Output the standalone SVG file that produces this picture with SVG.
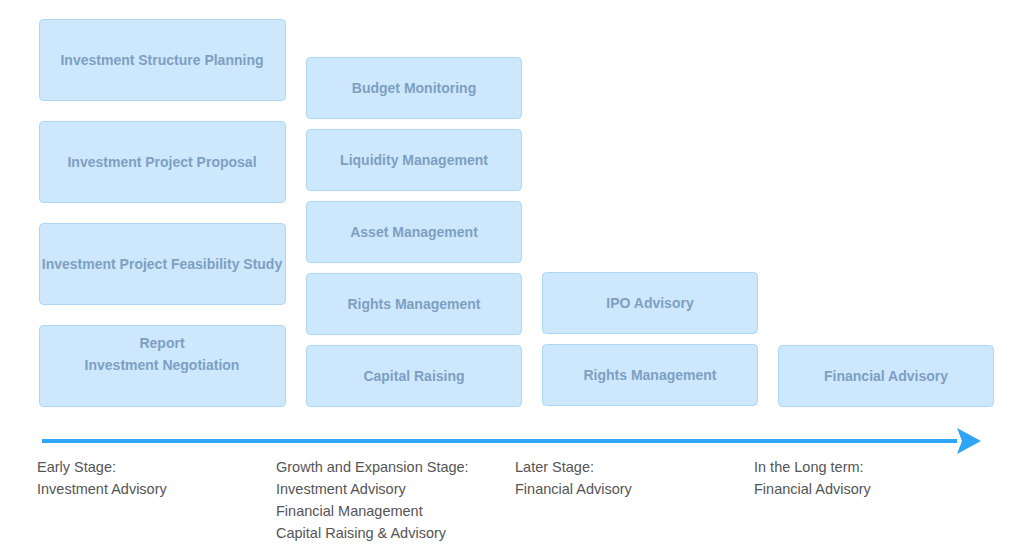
<svg xmlns="http://www.w3.org/2000/svg" width="1024" height="560" viewBox="0 0 1024 560">
<defs>
<style>
.box{fill:#cde8fc;stroke:#aed6f3;stroke-width:1}
.bt{font-family:"Liberation Sans",Arial,sans-serif;font-size:14px;font-weight:bold;fill:#7d9fc3;text-anchor:middle;dominant-baseline:central}
.lt{font-family:"Liberation Sans",Arial,sans-serif;font-size:14.5px;fill:#555555}
</style>
<marker id="ah" viewBox="0 0 24 26" markerWidth="24" markerHeight="26" refX="0" refY="13" orient="auto" markerUnits="userSpaceOnUse">
<path d="M0,0 L24,13 L0,26 L5,13 Z" fill="#2ea5f5"/>
</marker>
</defs>
<rect width="1024" height="560" fill="#ffffff"/>
<g id="n1"><rect class="box" x="39.5" y="19.5" width="246" height="81" rx="4"/><text class="bt" x="162" y="60">Investment Structure Planning</text></g>
<g id="n2"><rect class="box" x="39.5" y="121.5" width="246" height="81" rx="4"/><text class="bt" x="162" y="162">Investment Project Proposal</text></g>
<g id="n3"><rect class="box" x="39.5" y="223.5" width="246" height="81" rx="4"/><text class="bt" x="162" y="264">Investment Project Feasibility Study</text></g>
<g id="n4"><rect class="box" x="39.5" y="325.5" width="246" height="81" rx="4"/><text class="bt" x="162" y="343">Report</text><text class="bt" x="162" y="365">Investment Negotiation</text></g>
<g id="n5"><rect class="box" x="306.5" y="57.5" width="215" height="61" rx="4"/><text class="bt" x="414" y="88">Budget Monitoring</text></g>
<g id="n6"><rect class="box" x="306.5" y="129.5" width="215" height="61" rx="4"/><text class="bt" x="414" y="160">Liquidity Management</text></g>
<g id="n7"><rect class="box" x="306.5" y="201.5" width="215" height="61" rx="4"/><text class="bt" x="414" y="232">Asset Management</text></g>
<g id="n8"><rect class="box" x="306.5" y="273.5" width="215" height="61" rx="4"/><text class="bt" x="414" y="304">Rights Management</text></g>
<g id="n9"><rect class="box" x="306.5" y="345.5" width="215" height="61" rx="4"/><text class="bt" x="414" y="376">Capital Raising</text></g>
<g id="n10"><rect class="box" x="542.5" y="272.5" width="215" height="61" rx="4"/><text class="bt" x="650" y="303">IPO Advisory</text></g>
<g id="n11"><rect class="box" x="542.5" y="344.5" width="215" height="61" rx="4"/><text class="bt" x="650" y="375">Rights Management</text></g>
<g id="n12"><rect class="box" x="778.5" y="345.5" width="215" height="61" rx="4"/><text class="bt" x="886" y="376">Financial Advisory</text></g>
<g id="connectors">
<line x1="42" y1="441" x2="957" y2="441" stroke="#2ea5f5" stroke-width="4" marker-end="url(#ah)"/>
</g>
<g id="labels">
<text class="lt" x="37" y="472">Early Stage:</text>
<text class="lt" x="37" y="494">Investment Advisory</text>
<text class="lt" x="276" y="472">Growth and Expansion Stage:</text>
<text class="lt" x="276" y="494">Investment Advisory</text>
<text class="lt" x="276" y="516">Financial Management</text>
<text class="lt" x="276" y="538">Capital Raising &amp; Advisory</text>
<text class="lt" x="515" y="472">Later Stage:</text>
<text class="lt" x="515" y="494">Financial Advisory</text>
<text class="lt" x="754" y="472">In the Long term:</text>
<text class="lt" x="754" y="494">Financial Advisory</text>
</g>
</svg>
